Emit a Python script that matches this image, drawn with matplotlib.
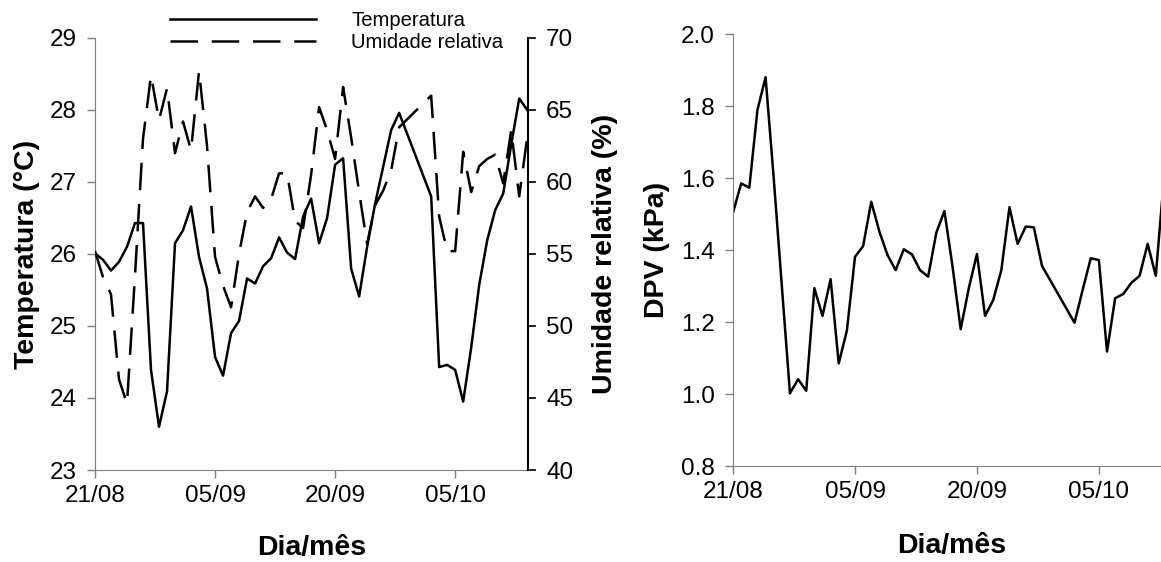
import pandas as pd
import matplotlib.pyplot as plt
import matplotlib.dates as mdates

plt.rcParams['font.family'] = ['Liberation Sans', 'DejaVu Sans']

# dias contados a partir de 21/08
ano = 2010
rotulos_x = ['21/08', '05/09', '20/09', '05/10']

dias = [0, 1, 2, 3, 4, 5, 6, 7, 8, 9, 10, 11, 12, 13, 14, 15, 16, 17, 18, 19,
        20, 21, 22, 23, 24, 25, 26, 27, 28, 29, 30, 31, 32, 33, 34, 35, 36, 37, 38,
        42, 43, 44, 45, 46, 47, 48, 49, 50, 51, 52, 53, 54]

temperatura = [26.01, 25.92, 25.77, 25.89, 26.10, 26.43, 26.43, 24.39, 23.60, 24.09,
               26.15, 26.33, 26.66, 25.96, 25.52, 24.57, 24.31, 24.90, 25.07, 25.66,
               25.59, 25.83, 25.94, 26.23, 26.02, 25.93, 26.52, 26.77, 26.15, 26.50,
               27.24, 27.33, 25.80, 25.41, 26.10, 26.70, 27.21, 27.72, 27.96,
               26.80, 24.43, 24.46, 24.39, 23.95, 24.70, 25.57, 26.19, 26.61, 26.84,
               27.52, 28.16, 28.00]

umidade = [55.2, 53.4, 52.2, 46.3, 44.6, 53.5, 63.0, 67.4, 64.3, 66.5,
           62.0, 64.2, 62.2, 67.7, 62.5, 54.8, 52.8, 51.3, 55.0, 57.9,
           59.0, 58.2, 58.8, 60.6, 60.6, 57.3, 56.8, 60.5, 65.2, 63.6,
           61.6, 66.6, 63.1, 59.3, 55.7, 58.4, 59.4, 60.8, 63.8,
           66.0, 57.6, 55.2, 55.2, 62.1, 59.3, 61.1, 61.6, 61.9, 59.9,
           63.6, 59.0, 63.1]

dias_dpv = [0, 1, 2, 3, 4, 5, 6, 7, 8, 9, 10, 11, 12, 13, 14, 15, 16, 17, 18, 19,
            20, 21, 22, 23, 24, 25, 26, 27, 28, 29, 30, 31, 32, 33, 34, 35, 36, 37, 38,
            42, 43, 44, 45, 46, 47, 48, 49, 50, 51, 52, 53]

dpv = [1.504, 1.585, 1.573, 1.789, 1.880, 1.600, 1.300, 1.002, 1.041, 1.009,
       1.294, 1.217, 1.319, 1.085, 1.176, 1.381, 1.411, 1.534, 1.451, 1.386,
       1.344, 1.402, 1.388, 1.344, 1.326, 1.448, 1.508, 1.354, 1.180, 1.294,
       1.389, 1.217, 1.261, 1.344, 1.519, 1.417, 1.465, 1.463, 1.356,
       1.198, 1.289, 1.377, 1.372, 1.118, 1.266, 1.278, 1.309, 1.328, 1.417,
       1.328, 1.600]

inicio = pd.Timestamp(f'{ano}-08-21')
datas = inicio + pd.to_timedelta(dias, unit='D')
datas_dpv = inicio + pd.to_timedelta(dias_dpv, unit='D')
ticks_x = pd.to_datetime([f'{r}/{ano}' for r in rotulos_x], format='%d/%m/%Y')

cinza = '#7f7f7f'
fig = plt.figure(figsize=(11.61, 5.62), dpi=100)

# painel da esquerda: temperatura e umidade
ax1 = fig.add_axes([0.0818, 0.1637, 0.373, 0.7687])
ax2 = ax1.twinx()
l1, = ax1.plot(datas, temperatura, color='black', lw=1.8, label='Temperatura')
l2, = ax2.plot(datas, umidade, color='black', lw=1.8, dashes=(11, 5.5),
               label='Umidade relativa')

ax1.set_xlim(inicio, inicio + pd.Timedelta(days=54.1))
ax1.set_ylim(23, 29)
ax2.set_ylim(40, 70)
ax1.set_yticks(range(23, 30))
ax2.set_yticks(range(40, 71, 5))

# painel da direita: DPV
ax3 = fig.add_axes([0.6314, 0.1708, 0.3686, 0.7687])
ax3.plot(datas_dpv, dpv, color='black', lw=1.8)
ax3.set_xlim(inicio, inicio + pd.Timedelta(days=52.64))
ax3.set_ylim(0.8, 2.0)
ax3.set_yticks([0.8, 1.0, 1.2, 1.4, 1.6, 1.8, 2.0])
ax3.yaxis.set_major_formatter(plt.FormatStrFormatter('%.1f'))

for ax in (ax1, ax3):
    ax.set_xticks(ticks_x)
    ax.xaxis.set_major_formatter(mdates.DateFormatter('%d/%m'))
    ax.spines['top'].set_visible(False)
    ax.spines['right'].set_visible(False)
    ax.spines['left'].set_color(cinza)
    ax.spines['bottom'].set_color(cinza)
    ax.tick_params(axis='both', direction='out', length=6, width=1, color=cinza,
                   labelsize=17.5)
    ax.tick_params(axis='y', pad=7)
    ax.tick_params(axis='x', pad=5)

for s in ('top', 'left', 'bottom'):
    ax2.spines[s].set_visible(False)
ax2.spines['right'].set_color('black')
ax2.spines['right'].set_linewidth(1.5)
ax2.tick_params(axis='y', direction='out', length=6, width=1.2, color='black',
                labelsize=17.5, pad=7)

rot = dict(fontsize=20.5, fontweight='bold')
ax1.set_ylabel('Temperatura (°C)', **rot)
ax1.yaxis.set_label_coords(-0.127, 0.5)
ax2.set_ylabel('Umidade relativa (%)', **rot)
ax2.yaxis.set_label_coords(1.148, 0.5)
ax3.set_ylabel('DPV (kPa)', **rot)
ax3.yaxis.set_label_coords(-0.147, 0.5)

ax1.set_xlabel('Dia/mês', va='center', **rot)
ax1.xaxis.set_label_coords(0.5, -0.18)
ax3.set_xlabel('Dia/mês', va='center', **rot)
ax3.xaxis.set_label_coords(0.51, -0.185)

fig.legend(handles=[l1, l2], loc='center left',
           bbox_to_anchor=(170 / 1161, 1 - 31.5 / 562), frameon=False,
           fontsize=14.6, handlelength=7.2, handletextpad=1.75, labelspacing=0.15,
           borderpad=0, borderaxespad=0)

fig.savefig('out.png', dpi=100)
